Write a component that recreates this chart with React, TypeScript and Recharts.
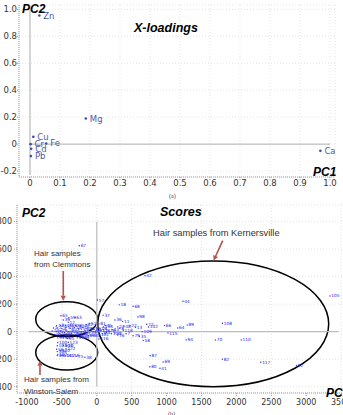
import React from 'react';
import { ScatterChart, Scatter, XAxis, YAxis, CartesianGrid, ReferenceLine, ReferenceArea } from 'recharts';

// ---------- (a) X-loadings ----------
const loadElems = ['Zn', 'Mg', 'Cu', 'Cr', 'Fe', 'Cd', 'Pb', 'Ca'];
const loadPC1 = [0.031, 0.186, 0.011, 0.002, 0.054, 0.004, 0.003, 0.968];
const loadPC2 = [0.955, 0.19, 0.054, 0.0, 0.005, -0.035, -0.089, -0.05];
const loadTicksX = [0, 0.1, 0.2, 0.3, 0.4, 0.5, 0.6, 0.7, 0.8, 0.9, 1.0];
const loadTicksY = [-0.2, 0, 0.2, 0.4, 0.6, 0.8, 1.0];

// ---------- (b) Scores ----------
const scoreIds = [
  '42', '57', '18', '68', '44', '37', '98', '36', '11', '22', '13', '72', '102', '66', '64', '89', '108', '105', '115', '134',
  '79', '35', '109', '58', '94', '70', '110', '87', '69', '80', '41', '82', '117', '92', '67', '116', '81',
  '27', '43', '114', '8', '4', '118', '33', '121', '9', '26', '7', '45', '101', '76', '19', '48', '113',
  '65', '39', '59', '63', '12', '73', '31', '46', '88', '96', '50', '62', '52',
  '1', '2', '3', '5', '6', '14', '15', '16', '20', '21', '23',
  '24', '25', '29', '30', '32', '34', '40', '47', '53', '55', '60',
  '61', '71', '74', '77', '78', '83', '84', '85', '86', '90',
  '91', '93', '95', '97', '99',
  '123', '100', '103', '10', '104', '56', '106', '107', '49', '111', '112', '119', '75', '38', '120', '122'
];
const scorePC1 = [
  690, 10, 320, 520, 1235, 90, 590, 260, 370, 475, 555, 715, 740, 970, 1160, 1295, 1800, 3340, 1020, 95,
  520, 610, 650, 665, 1280, 1700, 2070, 765, 950, 760, 905, 1800, 2350, 2860, -250, 30, 30,
  300, 220, 210, 330, 140, 380, 260, 60, 80, 170, 420, 120, 40, 300, 45, 390, 20,
  -513, -480, -400, -312, -408, -575, -520, -450, -380, -300, -230, -150, -100,
  -620, -560, -500, -440, -380, -320, -260, -200, -140, -80, -40,
  -640, -580, -520, -460, -400, -340, -280, -220, -160, -100, -50,
  -600, -540, -480, -420, -360, -300, -240, -180, -120, -60,
  -560, -480, -420, -280, -200,
  -408, -560, -566, -430, -480, -575, -566, -560, -566, -498, -450, -384, -288, -170, -520, -440
];
const scorePC2 = [
  407, 230, 195, 185, 221, 120, 107, 85, 75, 46, 32, 54, 34, 44, 27, 49, 61, 260, -10, 34,
  -30, -34, 0, -63, -60, -60, -60, -175, -220, -255, -266, -200, -222, -245, 625, -53, 56,
  35, 15, -15, 25, -5, 10, -10, 10, -15, 5, -15, 45, -20, -25, 25, 40, 5,
  116, 85, 102, 102, 68, 44, 44, 44, 48, 44, 44, 50, 60,
  27, 27, 22, 30, 25, 28, 22, 30, 20, 25, 15,
  5, 0, 5, -5, 0, 5, -5, 0, 5, -5, 0,
  -20, -15, -20, -25, -15, -20, -25, -20, -30, -25,
  -45, -40, -50, -45, -40,
  -77, -80, -102, -102, -100, -128, -145, -165, -174, -174, -176, -174, -178, -186, -140, -125
];
const scoreTicksX = [-1000, -500, 0, 500, 1000, 1500, 2000, 2500, 3000, 3500];
const scoreTicksY = [-400, -200, 0, 200, 400, 600, 800];

// group ellipses (data units: PC1 from/to, PC2 from/to)
const groupNames = ['Clemmons', 'Winston-Salem', 'Kernersville'];
const groupPC1From = [-875, -875, 13];
const groupPC1To = [13, 13, 3322];
const groupPC2From = [-36, -278, -400];
const groupPC2To = [218, -24, 514];
// arrows (data units)
const arrowFromPC1 = [-480, -814, 1804];
const arrowFromPC2 = [441, -315, 662];
const arrowToPC1 = [-480, -814, 1673];
const arrowToPC2 = [225, -211, 517];

const loadData = loadElems.map((e, i) => ({ name: e, x: loadPC1[i], y: loadPC2[i] }));
const scoreData = scoreIds.map((id, i) => ({ name: id, x: scorePC1[i], y: scorePC2[i] }));

const tickFont = { fontFamily: 'DejaVu Sans', fill: '#333' };

const fmt1 = (v: number) => (v === 0 ? '0' : v.toFixed(1));

const LoadShape = (p: any) => (
  <g>
    <circle cx={p.cx} cy={p.cy} r={1.3} fill="#3d4f9f" />
    <text x={p.cx + 4} y={p.cy + 3} fontSize={8.5} fontFamily="DejaVu Sans" fill="#4a5aa8">
      {p.payload.name}
    </text>
  </g>
);

const ScoreShape = (p: any) => (
  <g>
    <circle cx={p.cx} cy={p.cy} r={0.7} fill="#2a2ae8" />
    <text x={p.cx + 1.3} y={p.cy + 1.5} fontSize={4.3} fontFamily="DejaVu Sans" fill="#2222ee">
      {p.payload.name}
    </text>
  </g>
);

const EllipseShape = (p: any) => (
  <ellipse
    cx={p.x + p.width / 2}
    cy={p.y + p.height / 2}
    rx={Math.abs(p.width) / 2}
    ry={Math.abs(p.height) / 2}
    fill="none"
    stroke="#000"
    strokeWidth={1.5}
  />
);

const ArrowShape = (p: any) => {
  const { x1, y1, x2, y2 } = p;
  const ang = Math.atan2(y2 - y1, x2 - x1);
  const hl = 5;
  const hw = 2.6;
  const bx = x2 - hl * Math.cos(ang);
  const by = y2 - hl * Math.sin(ang);
  const px = -Math.sin(ang);
  const py = Math.cos(ang);
  return (
    <g>
      <line x1={x1} y1={y1} x2={bx} y2={by} stroke="#b5524c" strokeWidth={1.6} />
      <polygon
        points={`${x2},${y2} ${bx + px * hw},${by + py * hw} ${bx - px * hw},${by - py * hw}`}
        fill="#b5524c"
      />
    </g>
  );
};

export default function App() {
  return (
    <div style={{ position: 'absolute', left: 0, top: 0, width: 343, height: 415, overflow: 'hidden', background: '#fff' }}>
      <div style={{ position: 'absolute', left: 0, top: 0 }}>
        <ScatterChart width={343} height={200} margin={{ top: 5, right: 8, bottom: 3, left: 0 }}>
          <CartesianGrid stroke="#e6e6e6" strokeDasharray="1 2" />
          <XAxis
            type="number"
            dataKey="x"
            domain={[-0.0367, 1.0167]}
            ticks={loadTicksX}
            tickFormatter={fmt1}
            allowDataOverflow
            height={20}
            tick={{ ...tickFont, fontSize: 8.5 }}
            tickSize={3}
            tickMargin={0}
            stroke="#999"
            strokeDasharray="1 1"
            tickLine={{ stroke: '#999' }}
          />
          <YAxis
            type="number"
            dataKey="y"
            domain={[-0.244, 1.033]}
            ticks={loadTicksY}
            tickFormatter={fmt1}
            allowDataOverflow
            width={19}
            tick={{ ...tickFont, fontSize: 8.5 }}
            tickSize={2}
            tickMargin={0}
            stroke="#999"
            strokeDasharray="1 1"
            tickLine={{ stroke: '#999' }}
          />
          <ReferenceLine segment={[{ x: 0, y: 0 }, { x: 1.0, y: 0 }]} stroke="#b0b0b0" strokeWidth={1} />
          <ReferenceLine segment={[{ x: 0, y: -0.23 }, { x: 0, y: 1.0 }]} stroke="#b0b0b0" strokeWidth={1} />
          <Scatter data={loadData} isAnimationActive={false} shape={LoadShape} />
        </ScatterChart>
      </div>

      <div style={{ position: 'absolute', left: -20, top: 200 }}>
        <ScatterChart width={370} height={215} margin={{ top: 5, right: 0, bottom: 2, left: 0 }}>
          <CartesianGrid stroke="#e3e3e3" strokeDasharray="1 2" />
          <XAxis
            type="number"
            dataKey="x"
            domain={[-1143, 3627]}
            ticks={scoreTicksX}
            allowDataOverflow
            height={20}
            tick={{ ...tickFont, fontSize: 8 }}
            tickSize={3}
            tickMargin={3}
            stroke="#999"
            strokeDasharray="1 1"
            tickLine={{ stroke: '#999' }}
          />
          <YAxis
            type="number"
            dataKey="y"
            domain={[-446, 921]}
            ticks={scoreTicksY}
            allowDataOverflow
            width={37}
            tick={{ ...tickFont, fontSize: 8 }}
            tickSize={3}
            tickMargin={2}
            stroke="#999"
            strokeDasharray="1 1"
            tickLine={{ stroke: '#999' }}
          />
          <ReferenceLine segment={[{ x: -980, y: 0 }, { x: 3460, y: 0 }]} stroke="#bdbdbd" strokeWidth={1.2} />
          <ReferenceLine segment={[{ x: 0, y: -400 }, { x: 0, y: 800 }]} stroke="#bdbdbd" strokeWidth={1.2} />
          <Scatter data={scoreData} isAnimationActive={false} shape={ScoreShape} />
          {groupNames.map((g, i) => (
            <ReferenceArea
              key={g}
              x1={groupPC1From[i]}
              x2={groupPC1To[i]}
              y1={groupPC2From[i]}
              y2={groupPC2To[i]}
              ifOverflow="visible"
              shape={EllipseShape}
            />
          ))}
          {groupNames.map((g, i) => (
            <ReferenceLine
              key={'a' + g}
              segment={[
                { x: arrowFromPC1[i], y: arrowFromPC2[i] },
                { x: arrowToPC1[i], y: arrowToPC2[i] },
              ]}
              ifOverflow="visible"
              shape={ArrowShape}
            />
          ))}
        </ScatterChart>
      </div>

      <svg
        width={343}
        height={415}
        style={{ position: 'absolute', left: 0, top: 0, pointerEvents: 'none' }}
      >
        <g fontFamily="Liberation Sans" fontWeight="bold" fontStyle="italic" fill="#000">
          <text x={22} y={13} fontSize={12}>PC2</text>
          <text x={134} y={32} fontSize={12.5}>X-loadings</text>
          <text x={313} y={176} fontSize={12}>PC1</text>
          <text x={22} y={217} fontSize={12}>PC2</text>
          <text x={160} y={216} fontSize={12.5}>Scores</text>
          <text x={326} y={397} fontSize={12}>PC1</text>
        </g>
        <g fontFamily="Liberation Sans" fill="#333">
          <text x={153} y={235.5} fontSize={9.3}>Hair samples  from Kernersville</text>
          <text x={34} y={255.5} fontSize={8}>Hair samples</text>
          <text x={34} y={266.5} fontSize={8}>from  Clemmons</text>
          <text x={24} y={382} fontSize={8}>Hair samples from</text>
          <text x={24} y={393.5} fontSize={8}>Winston-Salem</text>
        </g>
        <g fontFamily="Liberation Serif" fill="#444" fontSize={6}>
          <text x={169} y={198}>(a)</text>
          <text x={168} y={416}>(b)</text>
        </g>
      </svg>
    </div>
  );
}
